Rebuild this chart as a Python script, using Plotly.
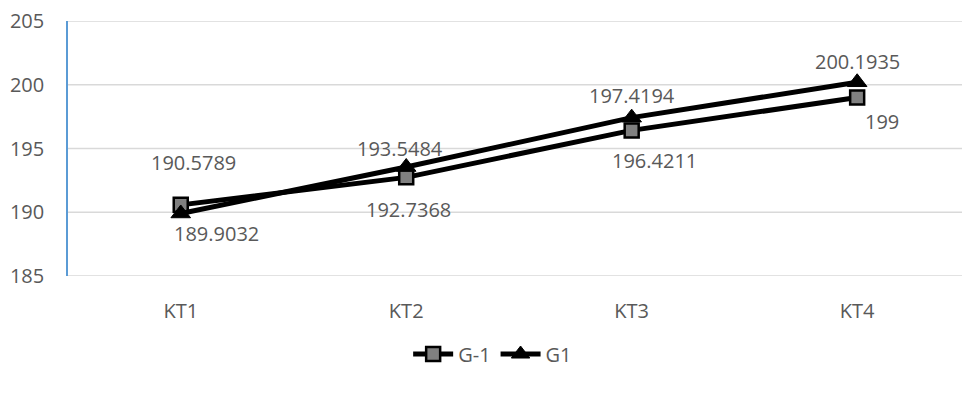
import plotly.graph_objects as go

categories = ["KT1", "KT2", "KT3", "KT4"]
g_minus1 = [190.5789, 192.7368, 196.4211, 199]
g1 = [189.9032, 193.5484, 197.4194, 200.1935]
y_ticks = [185, 190, 195, 200, 205]

# label offsets in pixels (style only)
gm1_label_shift = [(13, 42), (2, -32), (23, -30), (25, -24)]
g1_label_shift = [(36, -20), (-6, 19), (0, 22), (0, 21)]

FONT = "Open Sans"
GREY = "#595959"
GRID = "#d9d9d9"

fig = go.Figure()
fig.add_trace(go.Scatter(
    x=categories, y=g_minus1, name="G-1", mode="lines+markers",
    line=dict(color="black", width=5),
    marker=dict(symbol="square", size=14, color="#808080",
                line=dict(color="black", width=2.5)),
))
fig.add_trace(go.Scatter(
    x=categories, y=g1, name="G1", mode="lines+markers",
    line=dict(color="black", width=5),
    marker=dict(symbol="triangle-up", size=17, color="black",
                line=dict(color="black", width=1)),
))

annotations = []
for cat, val, (dx, dy) in zip(categories, g_minus1, gm1_label_shift):
    annotations.append(dict(x=cat, y=val, text=str(val), showarrow=False,
                            xshift=dx, yshift=dy,
                            font=dict(family=FONT, size=20, color=GREY)))
for cat, val, (dx, dy) in zip(categories, g1, g1_label_shift):
    annotations.append(dict(x=cat, y=val, text=str(val), showarrow=False,
                            xshift=dx, yshift=dy,
                            font=dict(family=FONT, size=20, color=GREY)))

# gridlines drawn as shapes so the edge lines (185, 205) are shown too
shapes = [dict(type="line", xref="paper", yref="y", x0=0, x1=1, y0=t, y1=t,
               line=dict(color=GRID, width=1.5), layer="below")
          for t in y_ticks]

fig.update_layout(
    width=962, height=393,
    margin=dict(l=68, r=0, t=21, b=117),
    paper_bgcolor="white", plot_bgcolor="white",
    font=dict(family=FONT, size=20, color=GREY),
    annotations=annotations,
    shapes=shapes,
    showlegend=True,
    legend=dict(orientation="h", x=0.475, xanchor="center",
                y=-0.306, yanchor="middle",
                font=dict(family=FONT, size=20, color=GREY),
                itemwidth=40, bgcolor="rgba(0,0,0,0)"),
    xaxis=dict(type="category", range=[-0.5, 3.465], showgrid=False,
               showline=False, zeroline=False, ticks="",
               ticklabelstandoff=21,
               tickfont=dict(family=FONT, size=20, color=GREY)),
    yaxis=dict(range=[185, 205], tickvals=y_ticks, showgrid=False,
               zeroline=False,
               showline=True, linecolor="#5b9bd5", linewidth=1.5,
               ticks="", ticklabelstandoff=18,
               tickfont=dict(family=FONT, size=20, color=GREY)),
)

fig.write_html("out.html")
